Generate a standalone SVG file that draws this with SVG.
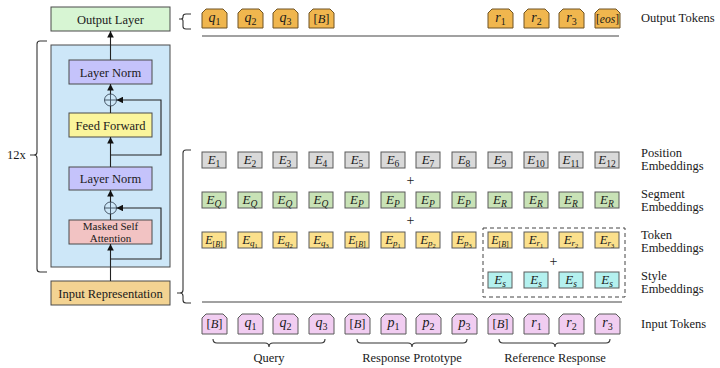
<svg xmlns="http://www.w3.org/2000/svg" width="720" height="368" viewBox="0 0 720 368" font-family="Liberation Serif, serif">
<defs>
<style>
.lbl{font-family:"Liberation Serif",serif;font-size:12.5px;fill:#1a1a1a}
.ctr{text-anchor:middle}
.m{font-family:"Liberation Serif",serif;font-style:italic;font-size:14px;fill:#1a1a1a;text-anchor:middle}
.e{font-family:"Liberation Serif",serif;font-style:italic;font-size:13px;fill:#1a1a1a;text-anchor:middle}
.up{font-style:normal}
.box{stroke:#5a5a5a;stroke-width:1}
.blk{stroke:#4a4a4a;stroke-width:1}
.ln{fill:none;stroke:#222;stroke-width:1.1}
.br{fill:none;stroke:#333;stroke-width:1.1}
.out{fill:#f0b64e;stroke:#6e5324;stroke-width:1}
.inp{fill:#f1cdf1;stroke:#5a5a5a;stroke-width:1}
.pos{fill:#d9d9d9}
.seg{fill:#c8e2b6}
.tok{fill:#fbe08c}
.sty{fill:#b4f1ef}
.plus{font-family:"Liberation Serif",serif;font-size:14px;fill:#222;text-anchor:middle}
</style>
<path id="tk" d="M0,19 V4 L4,0 H21 L25,4 V19 Z"/>
<path id="tki" d="M0,20 V4 L4,0 H21 L25,4 V20 Z"/>
<marker id="ah" viewBox="0 0 10 10" refX="10" refY="5" markerWidth="6" markerHeight="6" orient="auto"><path d="M0,0 L10,5 L0,10 z" fill="#111"/></marker>
</defs>
<rect width="720" height="368" fill="#fff"/>

<g font-family="Liberation Serif, serif">
<!-- Left model -->
<g id="output-layer"><rect x="51" y="7" width="119" height="24" fill="#d7f5d3" class="blk"/><text x="110.5" y="23.5" class="lbl ctr">Output Layer</text></g>
<g id="transformer-block"><rect x="51" y="45" width="119" height="222" fill="#cde7f8" class="blk"/></g>
<g id="layer-norm-1"><rect x="69" y="60" width="83" height="24" fill="#c5c3fb" class="blk"/><text x="110.5" y="76.5" class="lbl ctr">Layer Norm</text></g>
<g id="add-1"><circle cx="110.5" cy="100" r="6" fill="none" stroke="#3a4a5a" stroke-width="0.9"/><path d="M104.5,100 H116.5 M110.5,94 V106" stroke="#3a4a5a" stroke-width="0.9"/></g>
<g id="feed-forward"><rect x="69" y="113" width="83" height="24" fill="#fbf59c" class="blk"/><text x="110.5" y="129.5" class="lbl ctr">Feed Forward</text></g>
<g id="layer-norm-2"><rect x="69" y="167" width="83" height="23" fill="#c5c3fb" class="blk"/><text x="110.5" y="183" class="lbl ctr">Layer Norm</text></g>
<g id="add-2"><circle cx="110.5" cy="208" r="6" fill="none" stroke="#3a4a5a" stroke-width="0.9"/><path d="M104.5,208 H116.5 M110.5,202 V214" stroke="#3a4a5a" stroke-width="0.9"/></g>
<g id="masked-self-attention"><rect x="69" y="220" width="83" height="24" fill="#f2c3c3" class="blk"/><text x="110.5" y="229.5" class="lbl ctr" style="font-size:11px">Masked Self</text><text x="110.5" y="242" class="lbl ctr" style="font-size:11px">Attention</text></g>
<g id="input-representation"><rect x="51" y="281" width="119" height="24" fill="#f3d392" class="blk"/><text x="110.5" y="297.5" class="lbl ctr">Input Representation</text></g>
<g id="repeat-label"><text x="7" y="159" class="lbl">12x</text></g>

<g id="connectors">
<path class="ln" d="M110.5,281 V244" marker-end="url(#ah)"/>
<path class="ln" d="M110.5,259 H161 V208 H116.5" marker-end="url(#ah)"/>
<path class="ln" d="M110.5,220 V214"/>
<path class="ln" d="M110.5,202 V190" marker-end="url(#ah)"/>
<path class="ln" d="M110.5,167 V137" marker-end="url(#ah)"/>
<path class="ln" d="M110.5,155 H161 V100 H116.5" marker-end="url(#ah)"/>
<path class="ln" d="M110.5,113 V106"/>
<path class="ln" d="M110.5,94 V84" marker-end="url(#ah)"/>
<path class="ln" d="M110.5,60 V31" marker-end="url(#ah)"/>
</g>

<!-- brackets -->
<g id="brackets">
<path class="br" d="M47,41 H40 Q37,41 37,44 V152 Q37,155 34,155 H30 M34,155 Q37,155 37,158 V269 Q37,272 40,272 H47"/>
<path class="br" d="M191,14 H186 Q183,14 183,16.5 V17 Q183,19 181,19 H179 M181,19 Q183,19 183,21 V26.5 Q183,29 186,29 H191"/>
<path class="br" d="M191,150 H186 Q183,150 183,153 V290 Q183,293 180,293 H177 M180,293 Q183,293 183,296 V300 Q183,303 186,303 H191"/>
<path class="br" d="M213,339 Q213,343 217,343 H265 Q269,343 269,347 Q269,343 273,343 H321 Q325,343 325,339"/>
<path class="br" d="M357,339 Q357,343 361,343 H408 Q412,343 412,347 Q412,343 416,343 H463 Q467,343 467,339"/>
<path class="br" d="M499,339 Q499,343 503,343 H551 Q555,343 555,347 Q555,343 559,343 H606 Q610,343 610,339"/>
<line x1="202" y1="36" x2="619" y2="36" stroke="#444" stroke-width="1.2"/>
<line x1="202" y1="302" x2="622" y2="302" stroke="#444" stroke-width="1.2"/>
<rect x="483" y="228" width="142" height="69" fill="none" stroke="#444" stroke-width="1" stroke-dasharray="4,3"/>
</g>

<!-- Output tokens -->
<g id="out-q1"><use href="#tk" x="202" y="9" class="out"/><text x="214.5" y="22" class="m">q<tspan class="up" font-size="10" dy="3">1</tspan></text></g>
<g id="out-q2"><use href="#tk" x="238" y="9" class="out"/><text x="250.5" y="22" class="m">q<tspan class="up" font-size="10" dy="3">2</tspan></text></g>
<g id="out-q3"><use href="#tk" x="273" y="9" class="out"/><text x="285.5" y="22" class="m">q<tspan class="up" font-size="10" dy="3">3</tspan></text></g>
<g id="out-b"><use href="#tk" x="309" y="9" class="out"/><text x="321.5" y="23" class="m" style="font-size:12.5px"><tspan class="up">[</tspan>B<tspan class="up">]</tspan></text></g>
<g id="out-r1"><use href="#tk" x="488" y="9" class="out"/><text x="500.5" y="22" class="m">r<tspan class="up" font-size="10" dy="3">1</tspan></text></g>
<g id="out-r2"><use href="#tk" x="524" y="9" class="out"/><text x="536.5" y="22" class="m">r<tspan class="up" font-size="10" dy="3">2</tspan></text></g>
<g id="out-r3"><use href="#tk" x="559" y="9" class="out"/><text x="571.5" y="22" class="m">r<tspan class="up" font-size="10" dy="3">3</tspan></text></g>
<g id="out-eos"><use href="#tk" x="595" y="9" class="out"/><text x="607.5" y="23" class="m" style="font-size:11.5px"><tspan class="up">[</tspan>eos<tspan class="up">]</tspan></text></g>
<text x="641" y="22" class="lbl">Output Tokens</text>

<!-- Position embeddings -->
<g id="pos-1"><rect x="202" y="152" width="24" height="16" class="box pos"/><text x="214" y="164" class="e">E<tspan class="up" font-size="9.5" dy="2.5">1</tspan></text></g>
<g id="pos-2"><rect x="238" y="152" width="24" height="16" class="box pos"/><text x="250" y="164" class="e">E<tspan class="up" font-size="9.5" dy="2.5">2</tspan></text></g>
<g id="pos-3"><rect x="273" y="152" width="24" height="16" class="box pos"/><text x="285" y="164" class="e">E<tspan class="up" font-size="9.5" dy="2.5">3</tspan></text></g>
<g id="pos-4"><rect x="309" y="152" width="24" height="16" class="box pos"/><text x="321" y="164" class="e">E<tspan class="up" font-size="9.5" dy="2.5">4</tspan></text></g>
<g id="pos-5"><rect x="345" y="152" width="24" height="16" class="box pos"/><text x="357" y="164" class="e">E<tspan class="up" font-size="9.5" dy="2.5">5</tspan></text></g>
<g id="pos-6"><rect x="381" y="152" width="24" height="16" class="box pos"/><text x="393" y="164" class="e">E<tspan class="up" font-size="9.5" dy="2.5">6</tspan></text></g>
<g id="pos-7"><rect x="416" y="152" width="24" height="16" class="box pos"/><text x="428" y="164" class="e">E<tspan class="up" font-size="9.5" dy="2.5">7</tspan></text></g>
<g id="pos-8"><rect x="452" y="152" width="24" height="16" class="box pos"/><text x="464" y="164" class="e">E<tspan class="up" font-size="9.5" dy="2.5">8</tspan></text></g>
<g id="pos-9"><rect x="488" y="152" width="24" height="16" class="box pos"/><text x="500" y="164" class="e">E<tspan class="up" font-size="9.5" dy="2.5">9</tspan></text></g>
<g id="pos-10"><rect x="524" y="152" width="24" height="16" class="box pos"/><text x="536" y="164" class="e">E<tspan class="up" font-size="9.5" dy="2.5">10</tspan></text></g>
<g id="pos-11"><rect x="559" y="152" width="24" height="16" class="box pos"/><text x="571" y="164" class="e">E<tspan class="up" font-size="9.5" dy="2.5">11</tspan></text></g>
<g id="pos-12"><rect x="595" y="152" width="24" height="16" class="box pos"/><text x="607" y="164" class="e">E<tspan class="up" font-size="9.5" dy="2.5">12</tspan></text></g>
<text x="641" y="157" class="lbl">Position</text><text x="641" y="170" class="lbl">Embeddings</text>
<text x="410.5" y="184.5" class="plus">+</text>

<!-- Segment embeddings -->
<g id="seg-1"><rect x="202" y="192" width="24" height="16" class="box seg"/><text x="214" y="204" class="e">E<tspan font-size="9.5" dy="2.5">Q</tspan></text></g>
<g id="seg-2"><rect x="238" y="192" width="24" height="16" class="box seg"/><text x="250" y="204" class="e">E<tspan font-size="9.5" dy="2.5">Q</tspan></text></g>
<g id="seg-3"><rect x="273" y="192" width="24" height="16" class="box seg"/><text x="285" y="204" class="e">E<tspan font-size="9.5" dy="2.5">Q</tspan></text></g>
<g id="seg-4"><rect x="309" y="192" width="24" height="16" class="box seg"/><text x="321" y="204" class="e">E<tspan font-size="9.5" dy="2.5">Q</tspan></text></g>
<g id="seg-5"><rect x="345" y="192" width="24" height="16" class="box seg"/><text x="357" y="204" class="e">E<tspan font-size="9.5" dy="2.5">P</tspan></text></g>
<g id="seg-6"><rect x="381" y="192" width="24" height="16" class="box seg"/><text x="393" y="204" class="e">E<tspan font-size="9.5" dy="2.5">P</tspan></text></g>
<g id="seg-7"><rect x="416" y="192" width="24" height="16" class="box seg"/><text x="428" y="204" class="e">E<tspan font-size="9.5" dy="2.5">P</tspan></text></g>
<g id="seg-8"><rect x="452" y="192" width="24" height="16" class="box seg"/><text x="464" y="204" class="e">E<tspan font-size="9.5" dy="2.5">P</tspan></text></g>
<g id="seg-9"><rect x="488" y="192" width="24" height="16" class="box seg"/><text x="500" y="204" class="e">E<tspan font-size="9.5" dy="2.5">R</tspan></text></g>
<g id="seg-10"><rect x="524" y="192" width="24" height="16" class="box seg"/><text x="536" y="204" class="e">E<tspan font-size="9.5" dy="2.5">R</tspan></text></g>
<g id="seg-11"><rect x="559" y="192" width="24" height="16" class="box seg"/><text x="571" y="204" class="e">E<tspan font-size="9.5" dy="2.5">R</tspan></text></g>
<g id="seg-12"><rect x="595" y="192" width="24" height="16" class="box seg"/><text x="607" y="204" class="e">E<tspan font-size="9.5" dy="2.5">R</tspan></text></g>
<text x="641" y="198" class="lbl">Segment</text><text x="641" y="211" class="lbl">Embeddings</text>
<text x="410.5" y="225" class="plus">+</text>

<!-- Token embeddings -->
<g id="tok-1"><rect x="202" y="232" width="24" height="16" class="box tok"/><text x="214" y="244" class="e" style="font-size:12px">E<tspan font-size="8" dy="2.5"><tspan class="up">[</tspan>B<tspan class="up">]</tspan></tspan></text></g>
<g id="tok-2"><rect x="238" y="232" width="24" height="16" class="box tok"/><text x="250" y="244" class="e">E<tspan font-size="9" dy="2">q</tspan><tspan class="up" font-size="6.5" dy="1.5">1</tspan></text></g>
<g id="tok-3"><rect x="273" y="232" width="24" height="16" class="box tok"/><text x="285" y="244" class="e">E<tspan font-size="9" dy="2">q</tspan><tspan class="up" font-size="6.5" dy="1.5">2</tspan></text></g>
<g id="tok-4"><rect x="309" y="232" width="24" height="16" class="box tok"/><text x="321" y="244" class="e">E<tspan font-size="9" dy="2">q</tspan><tspan class="up" font-size="6.5" dy="1.5">3</tspan></text></g>
<g id="tok-5"><rect x="345" y="232" width="24" height="16" class="box tok"/><text x="357" y="244" class="e" style="font-size:12px">E<tspan font-size="8" dy="2.5"><tspan class="up">[</tspan>B<tspan class="up">]</tspan></tspan></text></g>
<g id="tok-6"><rect x="381" y="232" width="24" height="16" class="box tok"/><text x="393" y="244" class="e">E<tspan font-size="9" dy="2">p</tspan><tspan class="up" font-size="6.5" dy="1.5">1</tspan></text></g>
<g id="tok-7"><rect x="416" y="232" width="24" height="16" class="box tok"/><text x="428" y="244" class="e">E<tspan font-size="9" dy="2">p</tspan><tspan class="up" font-size="6.5" dy="1.5">2</tspan></text></g>
<g id="tok-8"><rect x="452" y="232" width="24" height="16" class="box tok"/><text x="464" y="244" class="e">E<tspan font-size="9" dy="2">p</tspan><tspan class="up" font-size="6.5" dy="1.5">3</tspan></text></g>
<g id="tok-9"><rect x="488" y="232" width="24" height="16" class="box tok"/><text x="500" y="244" class="e" style="font-size:12px">E<tspan font-size="8" dy="2.5"><tspan class="up">[</tspan>B<tspan class="up">]</tspan></tspan></text></g>
<g id="tok-10"><rect x="524" y="232" width="24" height="16" class="box tok"/><text x="536" y="244" class="e">E<tspan font-size="9" dy="2">r</tspan><tspan class="up" font-size="6.5" dy="1.5">1</tspan></text></g>
<g id="tok-11"><rect x="559" y="232" width="24" height="16" class="box tok"/><text x="571" y="244" class="e">E<tspan font-size="9" dy="2">r</tspan><tspan class="up" font-size="6.5" dy="1.5">2</tspan></text></g>
<g id="tok-12"><rect x="595" y="232" width="24" height="16" class="box tok"/><text x="607" y="244" class="e">E<tspan font-size="9" dy="2">r</tspan><tspan class="up" font-size="6.5" dy="1.5">3</tspan></text></g>
<text x="641" y="239" class="lbl">Token</text><text x="641" y="252" class="lbl">Embeddings</text>
<text x="553.5" y="266" class="plus">+</text>

<!-- Style embeddings -->
<g id="sty-1"><rect x="488" y="272" width="24" height="16" class="box sty"/><text x="500" y="284" class="e">E<tspan font-size="9.5" dy="2.5">s</tspan></text></g>
<g id="sty-2"><rect x="524" y="272" width="24" height="16" class="box sty"/><text x="536" y="284" class="e">E<tspan font-size="9.5" dy="2.5">s</tspan></text></g>
<g id="sty-3"><rect x="559" y="272" width="24" height="16" class="box sty"/><text x="571" y="284" class="e">E<tspan font-size="9.5" dy="2.5">s</tspan></text></g>
<g id="sty-4"><rect x="595" y="272" width="24" height="16" class="box sty"/><text x="607" y="284" class="e">E<tspan font-size="9.5" dy="2.5">s</tspan></text></g>
<text x="641" y="280" class="lbl">Style</text><text x="641" y="293" class="lbl">Embeddings</text>

<!-- Input tokens -->
<g id="in-1"><use href="#tki" x="202" y="314" class="inp"/><text x="214.5" y="328" class="m" style="font-size:12.5px"><tspan class="up">[</tspan>B<tspan class="up">]</tspan></text></g>
<g id="in-2"><use href="#tki" x="238" y="314" class="inp"/><text x="250.5" y="327" class="m">q<tspan class="up" font-size="10" dy="3">1</tspan></text></g>
<g id="in-3"><use href="#tki" x="273" y="314" class="inp"/><text x="285.5" y="327" class="m">q<tspan class="up" font-size="10" dy="3">2</tspan></text></g>
<g id="in-4"><use href="#tki" x="309" y="314" class="inp"/><text x="321.5" y="327" class="m">q<tspan class="up" font-size="10" dy="3">3</tspan></text></g>
<g id="in-5"><use href="#tki" x="345" y="314" class="inp"/><text x="357.5" y="328" class="m" style="font-size:12.5px"><tspan class="up">[</tspan>B<tspan class="up">]</tspan></text></g>
<g id="in-6"><use href="#tki" x="381" y="314" class="inp"/><text x="393.5" y="327" class="m">p<tspan class="up" font-size="10" dy="3">1</tspan></text></g>
<g id="in-7"><use href="#tki" x="416" y="314" class="inp"/><text x="428.5" y="327" class="m">p<tspan class="up" font-size="10" dy="3">2</tspan></text></g>
<g id="in-8"><use href="#tki" x="452" y="314" class="inp"/><text x="464.5" y="327" class="m">p<tspan class="up" font-size="10" dy="3">3</tspan></text></g>
<g id="in-9"><use href="#tki" x="488" y="314" class="inp"/><text x="500.5" y="328" class="m" style="font-size:12.5px"><tspan class="up">[</tspan>B<tspan class="up">]</tspan></text></g>
<g id="in-10"><use href="#tki" x="524" y="314" class="inp"/><text x="536.5" y="327" class="m">r<tspan class="up" font-size="10" dy="3">1</tspan></text></g>
<g id="in-11"><use href="#tki" x="559" y="314" class="inp"/><text x="571.5" y="327" class="m">r<tspan class="up" font-size="10" dy="3">2</tspan></text></g>
<g id="in-12"><use href="#tki" x="595" y="314" class="inp"/><text x="607.5" y="327" class="m">r<tspan class="up" font-size="10" dy="3">3</tspan></text></g>
<text x="641" y="328" class="lbl">Input Tokens</text>

<text x="269" y="362" class="lbl ctr">Query</text>
<text x="412" y="362" class="lbl ctr">Response Prototype</text>
<text x="555" y="362" class="lbl ctr">Reference Response</text>
</g>
</svg>
